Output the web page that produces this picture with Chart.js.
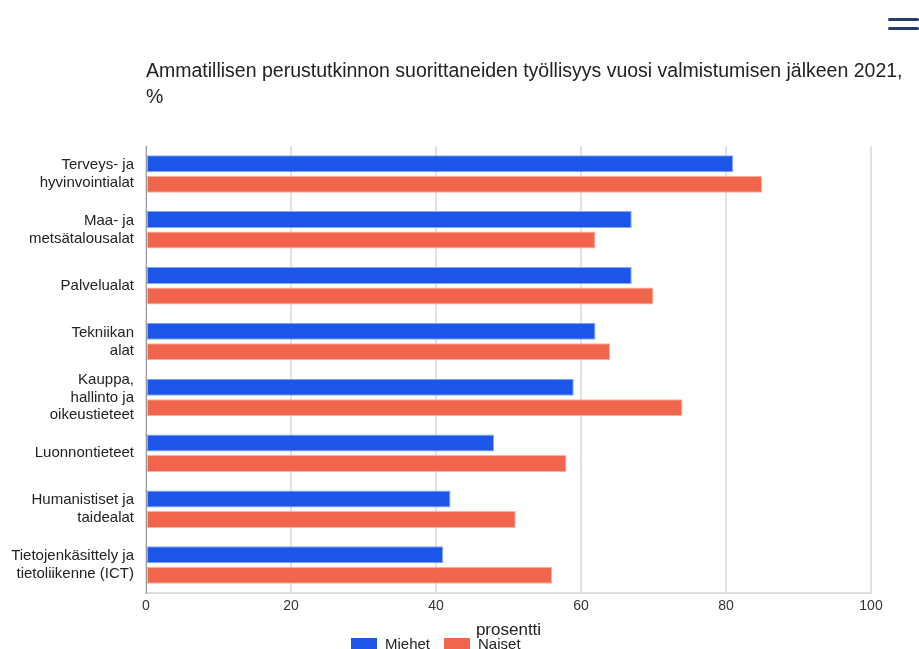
<!DOCTYPE html>
<html lang="fi">
<head>
<meta charset="utf-8">
<title>Työllisyys vuosi valmistumisen jälkeen</title>
<script src="https://cdn.jsdelivr.net/npm/chart.js@4.4.1/dist/chart.umd.min.js"></script>
<style>
  html, body { margin: 0; padding: 0; background: #fff; overflow: hidden; }
  #wrap { position: relative; width: 919px; height: 649px; overflow: hidden; }
  #myChart { position: absolute; left: 0; top: 0; }
  #title {
    position: absolute; left: 146px; top: 57px; width: 765px;
    font: 19.5px "Liberation Sans", Arial, sans-serif; line-height: 26px; color: #222;
  }
  .menu { position: absolute; left: 888px; width: 31px; height: 3px; border-radius: 2px; background: #253d6b; }
  #legend {
    position: absolute; left: 351px; top: 634px; display: flex; align-items: center;
    font: 15px "Liberation Sans", Arial, sans-serif; color: #222;
  }
  #legend span.box { display: inline-block; width: 26px; height: 14px; margin-top: 4px; margin-right: 8px; }
  #legend span.txt { margin-right: 14px; }
</style>
</head>
<body>
<div id="wrap">
  <canvas id="myChart" width="919" height="649"></canvas>
  <div id="title">Ammatillisen perustutkinnon suorittaneiden työllisyys vuosi valmistumisen jälkeen 2021, %</div>
  <div class="menu" style="top:18px"></div>
  <div class="menu" style="top:27px"></div>
  <div id="legend"></div>
</div>
<script>
'use strict';

// Data

var categories = [
  ['Terveys- ja', 'hyvinvointialat'],
  ['Maa- ja', 'metsätalousalat'],
  'Palvelualat',
  ['Tekniikan', 'alat'],
  ['Kauppa,', 'hallinto ja', 'oikeustieteet'],
  'Luonnontieteet',
  ['Humanistiset ja', 'taidealat'],
  ['Tietojenkäsittely ja', 'tietoliikenne (ICT)']
];
var miehet = [81, 67, 67, 62, 59, 48, 42, 41];
var naiset = [85, 62, 70, 64, 74, 58, 51, 56];
var seriesNames = ['Miehet', 'Naiset'];
var xTicks = [0, 20, 40, 60, 80, 100];
var axisTitle = 'prosentti';

var blue = 'rgb(27, 86, 232)';
var red = 'rgb(242, 101, 77)';

var fontFamily = '"Liberation Sans", Arial, sans-serif';

var canvas = document.getElementById('myChart');
var ctx = canvas.getContext('2d');

var data = {
  labels: categories,
  datasets: [
    {
      label: seriesNames[0],
      data: miehet,
      backgroundColor: blue,
      borderColor: 'rgba(120, 160, 245, 0.9)',
      borderWidth: 1,
      borderSkipped: false
    },
    {
      label: seriesNames[1],
      data: naiset,
      backgroundColor: red,
      borderColor: 'rgba(248, 170, 155, 0.9)',
      borderWidth: 1,
      borderSkipped: false
    }
  ]
};

var barConfig = {
  type: 'bar',
  data: data,
  options: {
    indexAxis: 'y',
    responsive: false,
    animation: false,
    datasets: { bar: { categoryPercentage: 0.733, barPercentage: 0.83 } },
    layout: { padding: { top: 146, right: 48, left: 0, bottom: 0 } },
    plugins: {
      legend: { display: false },
      title: { display: false },
      tooltip: { enabled: false }
    },
    scales: {
      x: {
        min: 0,
        max: 100,
        afterBuildTicks: function(scale) {
          scale.ticks = xTicks.map(function(v) { return { value: v }; });
        },
        afterFit: function(scale) { scale.height = 56; },
        grid: { color: '#e2e2e2', lineWidth: 2, drawTicks: false },
        border: { color: '#dcdcdc', width: 2 },
        ticks: { padding: 5, color: '#333', font: { family: fontFamily, size: 14 } },
        title: {
          display: true,
          text: axisTitle,
          color: '#222',
          font: { family: fontFamily, size: 17, lineHeight: 1.1 },
          padding: { top: 0, bottom: 9 }
        }
      },
      y: {
        afterFit: function(scale) { scale.width = 146; },
        grid: { display: false, drawTicks: false },
        border: { color: '#999', width: 1 },
        ticks: {
          autoSkip: false,
          padding: 12,
          color: '#222',
          font: { family: fontFamily, size: 15, lineHeight: 1.18 }
        }
      }
    }
  }
};

var barChart = new Chart(ctx, barConfig);

// Legend (html, placed like the original)

var legend = document.getElementById('legend');
[blue, red].forEach(function(color, i) {
  var box = document.createElement('span');
  box.className = 'box';
  box.style.background = color;
  var txt = document.createElement('span');
  txt.className = 'txt';
  txt.textContent = seriesNames[i];
  legend.appendChild(box);
  legend.appendChild(txt);
});
</script>
</body>
</html>
